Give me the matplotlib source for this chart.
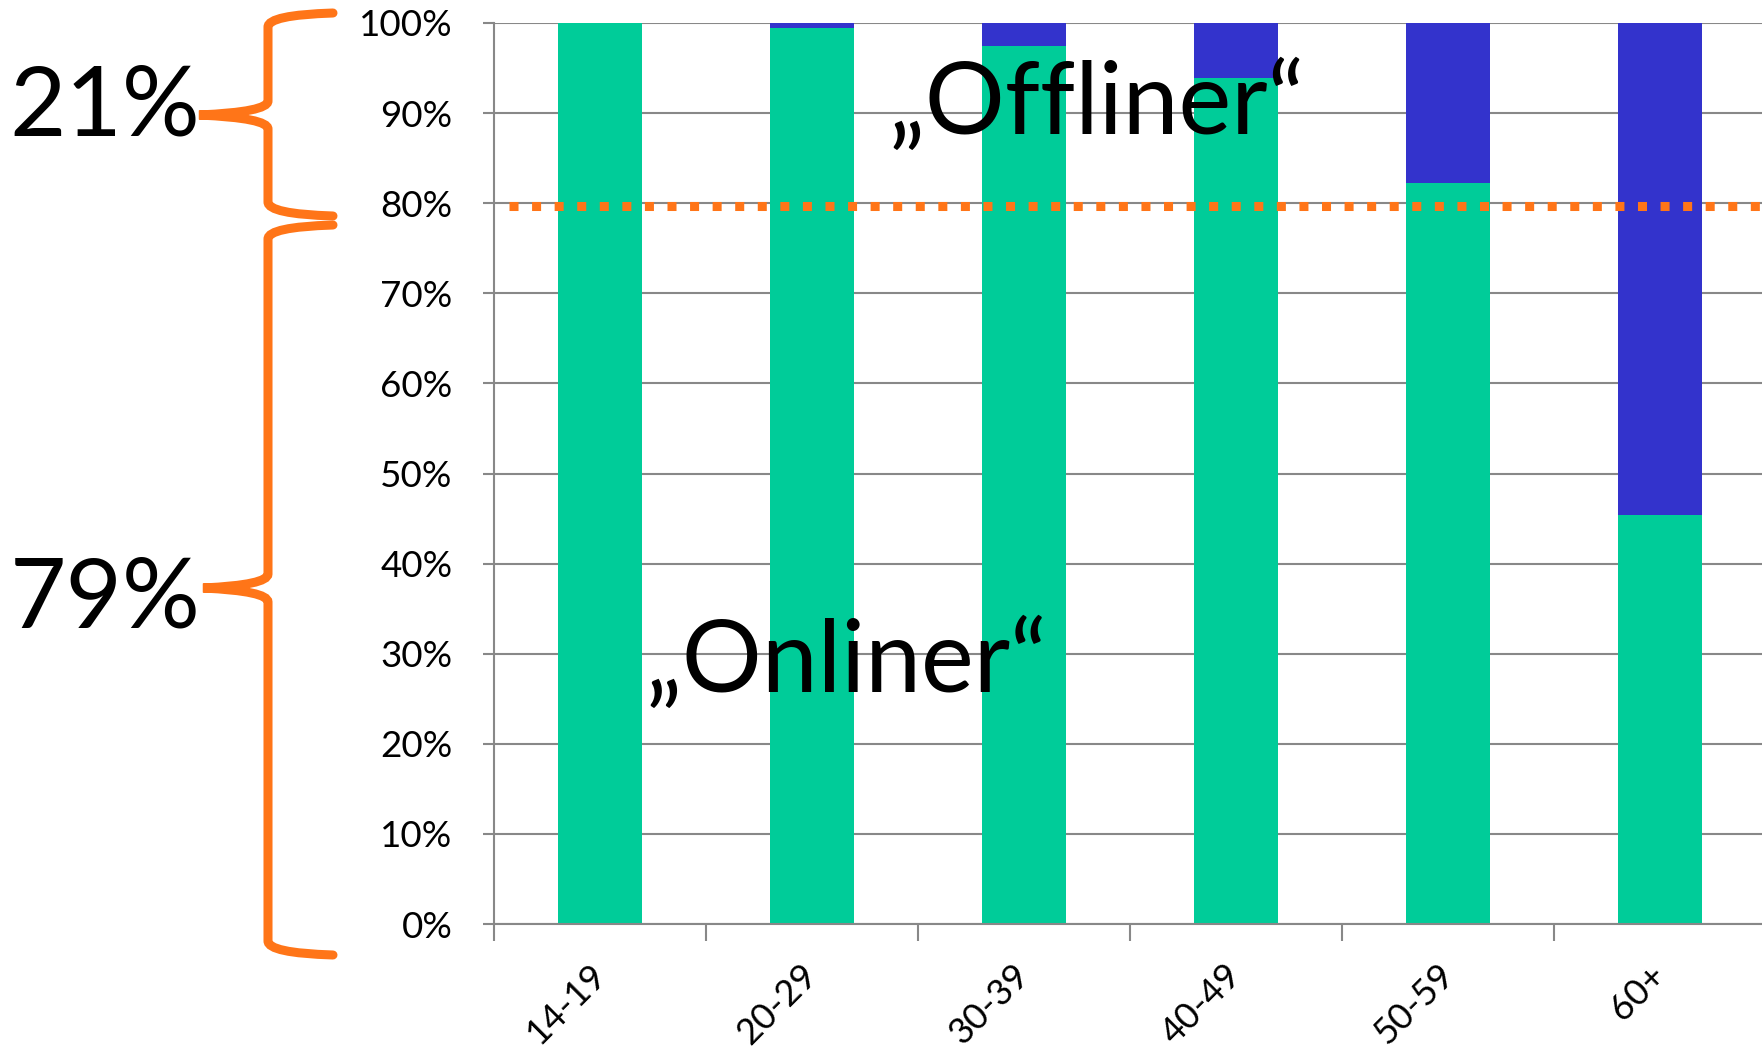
import matplotlib.pyplot as plt
from matplotlib.path import Path
from matplotlib.patches import PathPatch

plt.rcParams['font.family'] = ['Lato', 'DejaVu Sans']

groups = ["14-19", "20-29", "30-39", "40-49", "50-59", "60+"]
onliner = [100.0, 99.4, 97.4, 93.9, 82.2, 45.4]
offliner = [100 - v for v in onliner]
average = 79.7
share_on = "79%"
share_off = "21%"

green = "#00CC99"
blue = "#3333CC"
orange = "#FF7518"
grey = "#888888"

W, H = 1762, 1051
fig = plt.figure(figsize=(W / 100, H / 100), dpi=100)
ax = fig.add_axes([494 / W, 1 - 924 / H, 1272 / W, 901 / H])

x = range(len(groups))
ax.bar(x, onliner, width=0.4, color=green, zorder=2)
ax.bar(x, offliner, bottom=onliner, width=0.4, color=blue, zorder=2)

ax.set_xlim(-0.5, 5.5)
ax.set_ylim(0, 100)
ax.set_yticks(range(0, 101, 10))
ax.set_yticklabels([f"{v}%" for v in range(0, 101, 10)], fontsize=26.5)
ax.yaxis.grid(True, color=grey, linewidth=1.5, zorder=1)
ax.tick_params(axis='y', length=8, width=1.5, color=grey, pad=22)

# category boundaries as ticks, names in between
ax.set_xticks([i - 0.5 for i in range(len(groups))])
ax.set_xticklabels([])
ax.tick_params(axis='x', which='major', length=12, width=1.5, color=grey)
ax.set_xticks(list(x), minor=True)
ax.set_xticklabels(groups, minor=True, fontsize=26, rotation=45,
                   ha='right', va='center', rotation_mode='anchor')
ax.tick_params(axis='x', which='minor', length=0, pad=33)

for s in ['top', 'right']:
    ax.spines[s].set_visible(False)
for s in ['left', 'bottom']:
    ax.spines[s].set_color(grey)
    ax.spines[s].set_linewidth(1.5)

ax.axhline(average, xmin=0.012, xmax=1, color=orange, linewidth=6.5,
           linestyle=(0, (1, 1.5)), dash_capstyle='butt', zorder=3)

ax.text(2.34, 91, "\u201eOffliner\u201c", fontsize=72, ha='center', va='center', zorder=4)
ax.text(1.16, 29, "\u201eOnliner\u201c", fontsize=72, ha='center', va='center', zorder=4)


def brace(y_top, y_mid, y_bot, x_tip, x_vert, x_end, r=14):
    # pixel coords (y downwards) -> figure fraction
    def p(px, py):
        return (px / W, 1 - py / H)
    verts = [p(x_end, y_top), p(x_vert, y_top + 2), p(x_vert, y_top + r),
             p(x_vert, y_mid - r), p(x_vert, y_mid - 3), p(x_tip, y_mid),
             p(x_vert, y_mid + 3), p(x_vert, y_mid + r),
             p(x_vert, y_bot - r), p(x_vert, y_bot - 2), p(x_end, y_bot)]
    codes = [Path.MOVETO, Path.CURVE3, Path.CURVE3,
             Path.LINETO, Path.CURVE3, Path.CURVE3,
             Path.CURVE3, Path.CURVE3,
             Path.LINETO, Path.CURVE3, Path.CURVE3]
    patch = PathPatch(Path(verts, codes), facecolor='none', edgecolor=orange,
                      linewidth=6.5, transform=fig.transFigure, capstyle='round')
    fig.add_artist(patch)


brace(13, 115, 216, 199, 268, 333)
brace(225, 588, 955, 203, 268, 333)

fig.text(105 / W, 1 - 109 / H, share_off, fontsize=70, ha='center', va='center')
fig.text(105 / W, 1 - 601 / H, share_on, fontsize=70, ha='center', va='center')

fig.savefig("out.png", dpi=100)
